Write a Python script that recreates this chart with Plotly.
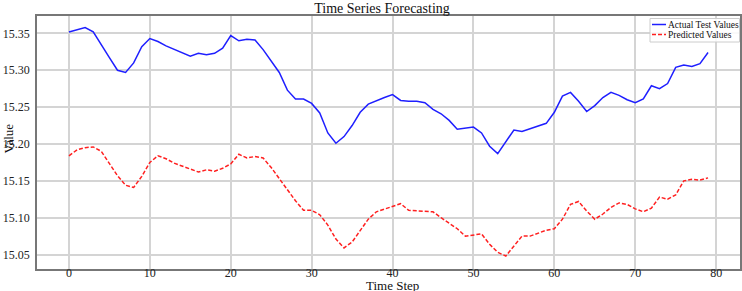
import plotly.graph_objects as go

time_step = list(range(80))

actual_values = [
    15.352, 15.355, 15.358, 15.352, 15.334, 15.317, 15.300, 15.297, 15.310, 15.332,
    15.343, 15.339, 15.333, 15.328, 15.323, 15.319, 15.323, 15.321, 15.323, 15.330,
    15.347, 15.340, 15.342, 15.341, 15.328, 15.313, 15.297, 15.273, 15.261, 15.261,
    15.255, 15.242, 15.215, 15.201, 15.210, 15.225, 15.243, 15.254, 15.259, 15.263,
    15.267, 15.259, 15.258, 15.258, 15.256, 15.247, 15.241, 15.232, 15.220, 15.222,
    15.223, 15.215, 15.197, 15.187, 15.203, 15.219, 15.217, 15.221, 15.225, 15.228,
    15.243, 15.265, 15.270, 15.258, 15.244, 15.252, 15.263, 15.270, 15.266, 15.260,
    15.256, 15.261, 15.279, 15.275, 15.282, 15.304, 15.307, 15.305, 15.309, 15.324,
]

predicted_values = [
    15.184, 15.192, 15.195, 15.196, 15.190, 15.174, 15.157, 15.144, 15.141, 15.156,
    15.175, 15.184, 15.180, 15.174, 15.170, 15.165, 15.162, 15.165, 15.163, 15.167,
    15.173, 15.186, 15.181, 15.183, 15.181, 15.168, 15.153, 15.139, 15.123, 15.110,
    15.110, 15.104, 15.090, 15.071, 15.059, 15.067, 15.082, 15.098, 15.108, 15.112,
    15.115, 15.119, 15.110, 15.109, 15.109, 15.108, 15.100, 15.093, 15.085, 15.075,
    15.077, 15.078, 15.064, 15.053, 15.048, 15.062, 15.075, 15.075, 15.079, 15.083,
    15.085, 15.098, 15.118, 15.122, 15.109, 15.098, 15.105, 15.114, 15.120, 15.118,
    15.112, 15.108, 15.113, 15.128, 15.125, 15.131, 15.150, 15.152, 15.151, 15.154,
]

x_ticks = [0, 10, 20, 30, 40, 50, 60, 70, 80]
y_ticks = [15.05, 15.10, 15.15, 15.20, 15.25, 15.30, 15.35]
y_tick_labels = ["15.05", "15.10", "15.15", "15.20", "15.25", "15.30", "15.35"]
series_names = ["Actual Test Values", "Predicted Values"]

FONT = "Liberation Serif"
W, H = 742, 291
L, R, T, B = 37, 2, 16, 22
BLUE, RED = "#1f1fff", "#ff2020"
RED_DASH = "4px,2px"

fig = go.Figure()
fig.add_trace(go.Scatter(
    x=time_step, y=actual_values, mode="lines", name=series_names[0],
    line=dict(color=BLUE, width=1.5), showlegend=False,
))
fig.add_trace(go.Scatter(
    x=time_step, y=predicted_values, mode="lines", name=series_names[1],
    line=dict(color=RED, width=1.5, dash=RED_DASH), showlegend=False,
))

fig.update_layout(
    width=W, height=H,
    margin=dict(l=L, r=R, t=T, b=B),
    paper_bgcolor="white", plot_bgcolor="white",
    font=dict(family=FONT, size=12, color="#222"),
    title=dict(text="Time Series Forecasting", x=382 / W, xanchor="center",
               y=1 - 8 / H, yanchor="middle", font=dict(family=FONT, size=14, color="#111")),
    showlegend=False,
)

fig.update_xaxes(
    range=[-3.95, 82.95], tickvals=x_ticks, ticks="", ticklabelstandoff=-8,
    showgrid=True, gridcolor="#d4d4d4", gridwidth=1.5,
    showline=True, linecolor="#777777", linewidth=1.5, mirror=True,
    zeroline=False, tickfont=dict(family=FONT, size=12, color="#222"),
    automargin=False,
)
fig.update_yaxes(
    range=[15.0304, 15.3736], tickvals=y_ticks, ticktext=y_tick_labels, ticks="",
    ticklabelstandoff=3,
    showgrid=True, gridcolor="#d4d4d4", gridwidth=1.5,
    showline=True, linecolor="#777777", linewidth=1.5, mirror=True,
    zeroline=False, tickfont=dict(family=FONT, size=12, color="#222"),
    automargin=False,
)

fig.add_annotation(text="Time Step", xref="paper", yref="paper", x=0.5, y=0,
                   xshift=(392 - 388.5), yshift=-16, xanchor="center", yanchor="middle",
                   showarrow=False, font=dict(family=FONT, size=13, color="#111"))
fig.add_annotation(text="Value", xref="paper", yref="paper", x=0, y=0.5,
                   xshift=-29, yshift=4, xanchor="center", yanchor="middle", textangle=-90,
                   showarrow=False, font=dict(family=FONT, size=13, color="#111"))

# Compact legend box (top-right, inside the axes), drawn in paper coordinates
pw, ph = W - L - R, H - T - B
def px_x(x):
    return (x - L) / pw
def px_y(y):
    return 1 - (y - T) / ph

fig.add_shape(type="rect", xref="paper", yref="paper",
              x0=px_x(650), x1=px_x(739.5), y0=px_y(42), y1=px_y(18.5),
              fillcolor="rgba(255,255,255,0.85)", line=dict(color="#cccccc", width=1))
for i, (name, color, dash) in enumerate(zip(series_names, [BLUE, RED], ["solid", RED_DASH])):
    yc = 24.5 + 10 * i
    fig.add_shape(type="line", xref="paper", yref="paper",
                  x0=px_x(652), x1=px_x(666), y0=px_y(yc), y1=px_y(yc),
                  line=dict(color=color, width=1.5, dash=dash))
    fig.add_annotation(text=name, xref="paper", yref="paper", x=px_x(667), y=px_y(yc),
                       xanchor="left", yanchor="middle", showarrow=False, borderpad=0,
                       font=dict(family=FONT, size=9.5, color="#111"))

fig.write_html("out.html", config={"displayModeBar": False},
               post_script="document.body.style.margin='0';document.body.style.padding='0';")
